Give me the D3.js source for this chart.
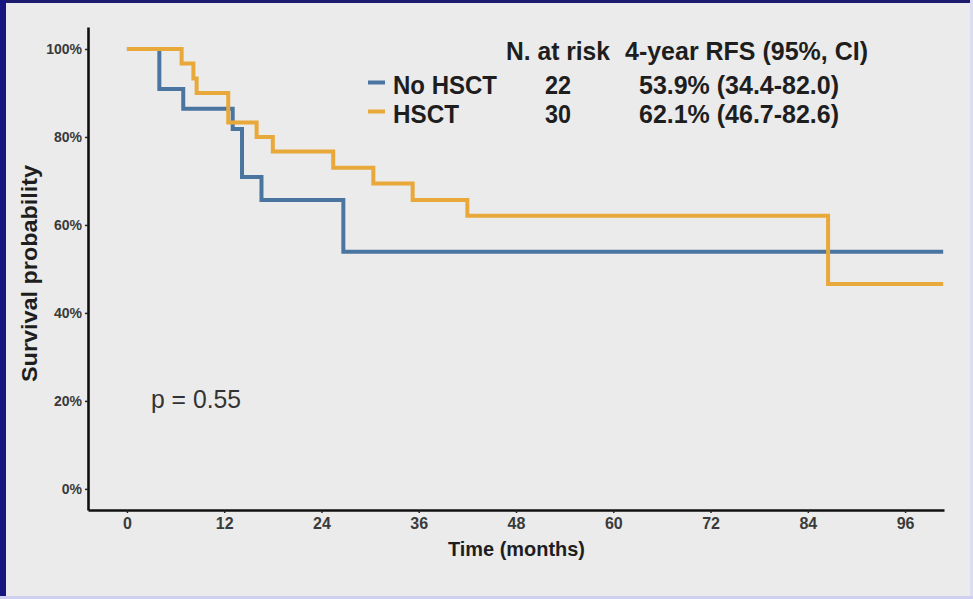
<!DOCTYPE html>
<html>
<head>
<meta charset="utf-8">
<script src="https://cdn.jsdelivr.net/npm/d3@7"></script>
<style>
  html, body { margin: 0; padding: 0; background: #ebebeb; }
  svg { display: block; }
  text { font-family: "Liberation Sans", Arial, sans-serif; }
</style>
</head>
<body>
<svg id="chart" width="973" height="599"></svg>
<script>
// Kaplan–Meier relapse-free survival, No HSCT vs HSCT
const groups = ["No HSCT", "HSCT"];
const groupColors = ["#4a75a0", "#e8a83a"];
const atRisk = [22, 30];
const rfs4y = ["53.9% (34.4-82.0)", "62.1% (46.7-82.6)"];

// step times (months) and survival after each step
const noHsctTimes = [0, 4.0, 6.95, 13.05, 14.2, 16.6, 26.7];
const noHsctSurv  = [1.0, 0.909, 0.864, 0.818, 0.709, 0.657, 0.539];
const hsctTimes   = [0, 6.75, 8.2, 8.6, 12.5, 16.0, 18.0, 25.45, 30.4, 35.25, 42.0, 86.5];
const hsctSurv    = [1.0, 0.967, 0.933, 0.900, 0.833, 0.800, 0.767, 0.730, 0.694, 0.657, 0.621, 0.466];
const lastFollowUp = 100.7;

const xTicks = [0, 12, 24, 36, 48, 60, 72, 84, 96];
const yTicks = [0, 0.2, 0.4, 0.6, 0.8, 1.0];
const pValueText = "p = 0.55";
const xTitle = "Time (months)";
const yTitle = "Survival probability";
const headerAtRisk = "N. at risk";
const headerRfs = "4-year RFS (95%, CI)";

const svg = d3.select("#chart");

// slide frame
svg.append("rect").attr("x", 0).attr("y", 0).attr("width", 973).attr("height", 599).attr("fill", "#ebebeb");
svg.append("rect").attr("x", 0).attr("y", 0).attr("width", 973).attr("height", 3).attr("fill", "#1d1b6e");
svg.append("rect").attr("x", 0).attr("y", 0).attr("width", 6).attr("height", 599).attr("fill", "#171680");
svg.append("rect").attr("x", 970).attr("y", 0).attr("width", 3).attr("height", 599).attr("fill", "#dcdcf2");
svg.append("rect").attr("x", 0).attr("y", 596).attr("width", 973).attr("height", 3).attr("fill", "#cfcff0");

const x = d3.scaleLinear().domain([-4.8, 100.8]).range([88, 944]);
const y = d3.scaleLinear().domain([-0.048, 1.05]).range([510, 27]);

// axes
const yAxis = svg.append("g").attr("transform", "translate(88,0)")
  .call(d3.axisLeft(y).tickValues(yTicks).tickFormat(d3.format(".0%")).tickSize(3).tickSizeOuter(0).tickPadding(3));
const xAxis = svg.append("g").attr("transform", "translate(0,510)")
  .call(d3.axisBottom(x).tickValues(xTicks).tickSize(3).tickSizeOuter(0).tickPadding(5));

[yAxis, xAxis].forEach(g => {
  g.select(".domain").attr("stroke", "#111").attr("stroke-width", 2.6);
  g.selectAll(".tick line").attr("stroke", "#222").attr("stroke-width", 1.5);
  g.selectAll(".tick text").attr("fill", "#3a3a3a").attr("font-weight", "bold")
    .attr("font-family", "'Liberation Sans', Arial, sans-serif");
});
yAxis.selectAll(".tick text").attr("font-size", 14);
xAxis.selectAll(".tick text").attr("font-size", 16);

// survival curves
const series = [
  { times: noHsctTimes, surv: noHsctSurv },
  { times: hsctTimes, surv: hsctSurv }
];
const line = d3.line().x(d => x(d[0])).y(d => y(d[1])).curve(d3.curveStepAfter);
series.forEach((s, i) => {
  const pts = s.times.map((t, k) => [t, s.surv[k]]);
  pts.push([lastFollowUp, s.surv[s.surv.length - 1]]);
  svg.append("path").datum(pts).attr("d", line)
    .attr("fill", "none").attr("stroke", groupColors[i]).attr("stroke-width", 4)
    .attr("stroke-linejoin", "miter").attr("stroke-linecap", "butt");
});

// text helper with fitted width
function label(txt, px, py, size, weight, width, fill, anchor) {
  const t = svg.append("text").attr("x", px).attr("y", py)
    .attr("font-size", size).attr("font-weight", weight)
    .attr("fill", fill || "#1e1e1e").attr("text-anchor", anchor || "start").text(txt);
  if (width) t.attr("textLength", width).attr("lengthAdjust", "spacingAndGlyphs");
  return t;
}

// legend / risk table
label(headerAtRisk, 506, 60, 26, "bold", 104);
label(headerRfs, 625, 60, 26, "bold", 243);
const rowY = [94, 123];
groups.forEach((g, i) => {
  svg.append("line").attr("x1", 368).attr("x2", 385).attr("y1", rowY[i] - 11.5).attr("y2", rowY[i] - 11.5)
    .attr("stroke", groupColors[i]).attr("stroke-width", 4);
  label(g, 393, rowY[i], 26, "bold", i === 0 ? 104 : 66);
  label(String(atRisk[i]), 558, rowY[i], 26, "bold", 26, null, "middle");
  label(rfs4y[i], 639, rowY[i], 26, "bold", 200);
});

// p-value
label(pValueText, 151, 408, 26, "normal", 90, "#333");

// axis titles
label(xTitle, 516.5, 556, 21, "bold", 137, "#1e1e1e", "middle");
svg.append("text").attr("transform", "translate(37,273.5) rotate(-90)")
  .attr("text-anchor", "middle").attr("font-size", 22).attr("font-weight", "bold")
  .attr("fill", "#1e1e1e").attr("textLength", 217).attr("lengthAdjust", "spacingAndGlyphs")
  .text(yTitle);
</script>
</body>
</html>
